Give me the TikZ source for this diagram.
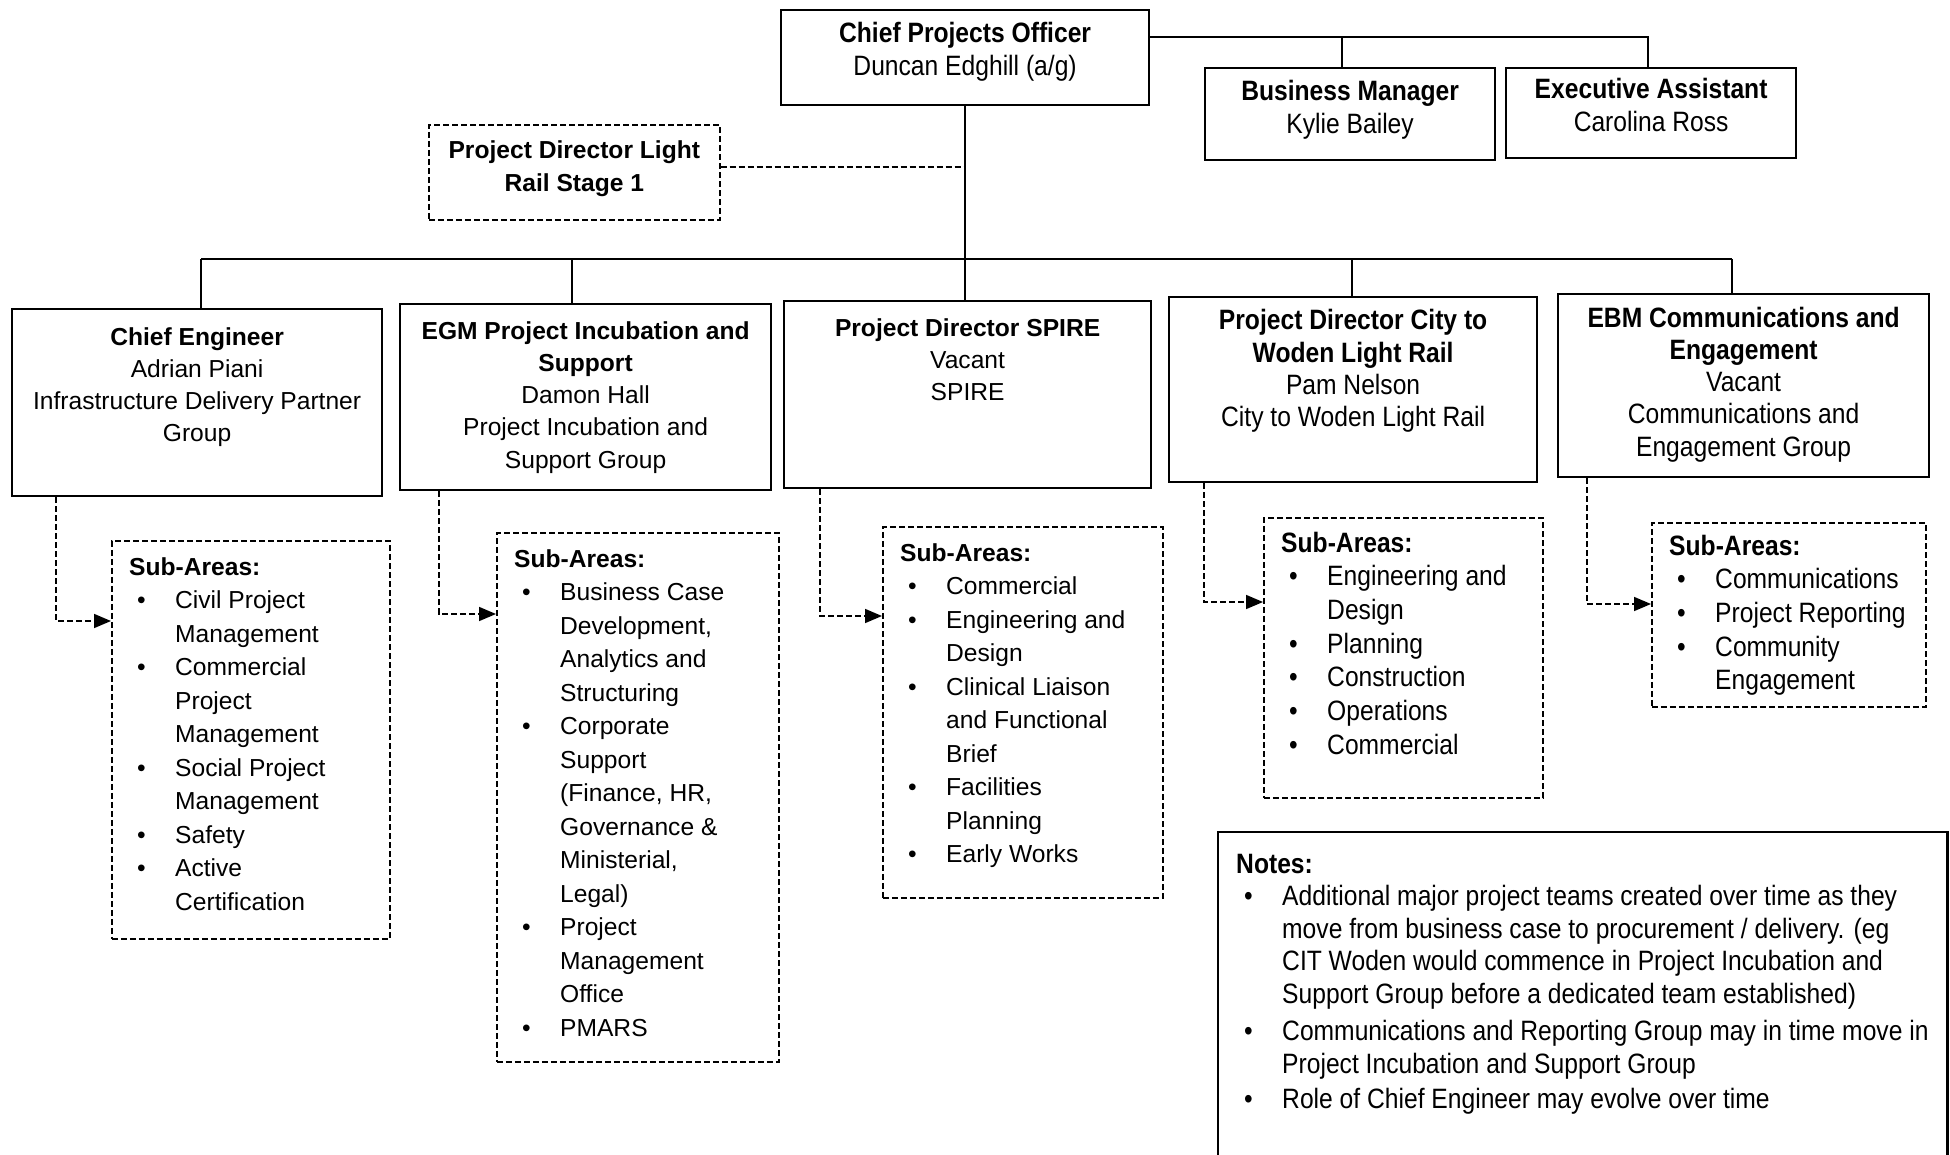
\documentclass[tikz,border=0pt]{standalone}
\usepackage{fontspec}
\setmainfont{Liberation Sans}
\newfontfamily\nar[FakeStretch=0.88]{Liberation Sans}
\usetikzlibrary{arrows.meta}
\newcommand\regfont{\fontsize{24.6}{32.3}\selectfont}
\newcommand\narfont{\nar\fontsize{28}{32.3}\selectfont}
\newcommand\reglist{\fontsize{24.6}{33.5}\selectfont}
\newcommand\narlist{\nar\fontsize{28}{33.7}\selectfont}
\newcommand\notefont{\nar\fontsize{28}{32.5}\selectfont}
\newcommand\bl{\textbullet}
\newcommand\ttab[1]{\begin{tabular}[t]{@{}c@{}}#1\end{tabular}}
\newenvironment{sublist}{\begin{tabular}[t]{@{\hspace{8pt}}p{38pt}@{}l@{}}}{\end{tabular}}
\begin{document}
\begin{tikzpicture}[x=1pt,y=-1pt,
  box/.style={draw, line width=2.2pt, rectangle, inner sep=0pt, anchor=north west},
  dbox/.style={draw, line width=1.6pt, dash pattern=on 6pt off 3pt, rectangle, inner sep=0pt, anchor=north west},
  conn/.style={line width=1.5pt},
  dconn/.style={line width=1.6pt, dash pattern=on 6pt off 3pt},
  darr/.style={dconn, -{Triangle[length=17pt,width=14pt]}},
  ttl/.style={anchor=base, inner sep=0pt},
  lst/.style={anchor=base west, inner sep=0pt}]
\fill[white] (0,0) rectangle (1950,1155);
\useasboundingbox (0,0) rectangle (1950,1155);

% top row
\node[box, minimum width=368pt, minimum height=95pt] (cpo) at (780,9) {};
\node[ttl, font=\narfont] (cpo-t) at ([yshift=-34pt]cpo.north) {\ttab{\textbf{Chief Projects Officer}\\Duncan Edghill (a/g)}};
\node[box, minimum width=290pt, minimum height=92pt] (bm) at (1204,67) {};
\node[ttl, font=\narfont] (bm-t) at ([yshift=-34pt]bm.north) {\ttab{\textbf{Business Manager}\\Kylie Bailey}};
\node[box, minimum width=290pt, minimum height=90pt] (ea) at (1505,67) {};
\node[ttl, font=\narfont] (ea-t) at ([yshift=-32pt]ea.north) {\ttab{\textbf{Executive Assistant}\\Carolina Ross}};
\node[dbox, minimum width=291pt, minimum height=95pt] (pdlr) at (428,124) {};
\node[ttl, font=\regfont] (pdlr-t) at ([yshift=-35pt]pdlr.north) {\ttab{\textbf{Project Director Light}\\\textbf{Rail Stage 1}}};

% second row
\node[box, minimum width=370pt, minimum height=187pt] (ce) at (11,308) {};
\node[ttl, font=\regfont] (ce-t) at ([yshift=-37pt]ce.north) {\ttab{\textbf{Chief Engineer}\\Adrian Piani\\Infrastructure Delivery Partner\\Group}};
\node[box, minimum width=371pt, minimum height=186pt] (egm) at (399,303) {};
\node[ttl, font=\regfont] (egm-t) at ([yshift=-36pt]egm.north) {\ttab{\textbf{EGM Project Incubation and}\\\textbf{Support}\\Damon Hall\\Project Incubation and\\Support Group}};
\node[box, minimum width=367pt, minimum height=187pt] (spire) at (783,300) {};
\node[ttl, font=\regfont] (spire-t) at ([yshift=-36pt]spire.north) {\ttab{\textbf{Project Director SPIRE}\\Vacant\\SPIRE}};
\node[box, minimum width=368pt, minimum height=185pt] (cw) at (1168,296) {};
\node[ttl, font=\narfont] (cw-t) at ([yshift=-34pt]cw.north) {\ttab{\textbf{Project Director City to}\\\textbf{Woden Light Rail}\\Pam Nelson\\City to Woden Light Rail}};
\node[box, minimum width=371pt, minimum height=183pt] (ebm) at (1557,293) {};
\node[ttl, font=\narfont] (ebm-t) at ([yshift=-34pt]ebm.north) {\ttab{\textbf{EBM Communications and}\\\textbf{Engagement}\\Vacant\\Communications and\\Engagement Group}};

% sub-area boxes
\node[dbox, minimum width=278pt, minimum height=398pt] (cesub) at (111,540) {};
\node[lst, font=\reglist] (cesub-t) at ([shift={(18pt,-35pt)}]cesub.north west) {\begin{sublist}
\multicolumn{2}{@{}l@{}}{\textbf{Sub-Areas:}}\\
\bl & Civil Project\\ & Management\\
\bl & Commercial\\ & Project\\ & Management\\
\bl & Social Project\\ & Management\\
\bl & Safety\\
\bl & Active\\ & Certification
\end{sublist}};

\node[dbox, minimum width=282pt, minimum height=529pt] (egmsub) at (496,532) {};
\node[lst, font=\reglist] (egmsub-t) at ([shift={(18pt,-35pt)}]egmsub.north west) {\begin{sublist}
\multicolumn{2}{@{}l@{}}{\textbf{Sub-Areas:}}\\
\bl & Business Case\\ & Development,\\ & Analytics and\\ & Structuring\\
\bl & Corporate\\ & Support\\ & (Finance, HR,\\ & Governance \&\\ & Ministerial,\\ & Legal)\\
\bl & Project\\ & Management\\ & Office\\
\bl & PMARS
\end{sublist}};

\node[dbox, minimum width=280pt, minimum height=371pt] (spiresub) at (882,526) {};
\node[lst, font=\reglist] (spiresub-t) at ([shift={(18pt,-35pt)}]spiresub.north west) {\begin{sublist}
\multicolumn{2}{@{}l@{}}{\textbf{Sub-Areas:}}\\
\bl & Commercial\\
\bl & Engineering and\\ & Design\\
\bl & Clinical Liaison\\ & and Functional\\ & Brief\\
\bl & Facilities\\ & Planning\\
\bl & Early Works
\end{sublist}};

\node[dbox, minimum width=279pt, minimum height=280pt] (cwsub) at (1263,517) {};
\node[lst, font=\narlist] (cwsub-t) at ([shift={(18pt,-35pt)}]cwsub.north west) {\begin{sublist}
\multicolumn{2}{@{}l@{}}{\textbf{Sub-Areas:}}\\
\bl & Engineering and\\ & Design\\
\bl & Planning\\
\bl & Construction\\
\bl & Operations\\
\bl & Commercial
\end{sublist}};

\node[dbox, minimum width=274pt, minimum height=184pt] (ebmsub) at (1651,522) {};
\node[lst, font=\narlist] (ebmsub-t) at ([shift={(18pt,-33pt)}]ebmsub.north west) {\begin{sublist}
\multicolumn{2}{@{}l@{}}{\textbf{Sub-Areas:}}\\
\bl & Communications\\
\bl & Project Reporting\\
\bl & Community\\ & Engagement
\end{sublist}};

% notes box (bottom edge runs off the page)
\node[inner sep=0pt, anchor=north west, minimum width=729pt, minimum height=330pt] (notes) at (1218,832) {};
\draw[line width=2.2pt] (notes.south west) -- (notes.north west) -- (notes.north east) -- (notes.south east);
\node[lst, font=\notefont] (notes-t) at ([shift={(18pt,-41pt)}]notes.north west) {\begin{sublist}
\multicolumn{2}{@{}l@{}}{\textbf{Notes:}}\\
\bl & Additional major project teams created over time as they\\
 & move from business case to procurement / delivery. (eg\\
 & CIT Woden would commence in Project Incubation and\\
 & Support Group before a dedicated team established)\\[5pt]
\bl & Communications and Reporting Group may in time move in\\
 & Project Incubation and Support Group\\[3pt]
\bl & Role of Chief Engineer may evolve over time
\end{sublist}};

% solid connectors
\coordinate (tr) at (1648,37);
\coordinate (tb) at (1342,37);
\draw[conn] (cpo.north east |- tr) -- (tr) -- (tr |- ea.north);
\draw[conn] (tb) -- (tb |- bm.north);
\draw[conn] (cpo.south) -- (cpo.south |- spire.north);
\coordinate (barL) at (201,259);
\coordinate (barR) at (1732,259);
\coordinate (d2) at (572,259);
\coordinate (d4) at (1352,259);
\draw[conn] (barL) -- (barR);
\draw[conn] (barL) -- (barL |- ce.north);
\draw[conn] (d2) -- (d2 |- egm.north);
\draw[conn] (d4) -- (d4 |- cw.north);
\draw[conn] (barR) -- (barR |- ebm.north);

% dashed connectors
\coordinate (pj) at (964,167);
\draw[dconn] (pj -| pdlr.east) -- (pj -| cpo.south);
\coordinate (j1) at (56,621);
\coordinate (j2) at (439,614);
\coordinate (j3) at (820,616);
\coordinate (j4) at (1204,602);
\coordinate (j5) at (1587,604);
\draw[darr] (j1 |- ce.south) -- (j1) -- (j1 -| cesub.west);
\draw[darr] (j2 |- egm.south) -- (j2) -- (j2 -| egmsub.west);
\draw[darr] (j3 |- spire.south) -- (j3) -- (j3 -| spiresub.west);
\draw[darr] (j4 |- cw.south) -- (j4) -- (j4 -| cwsub.west);
\draw[darr] (j5 |- ebm.south) -- (j5) -- (j5 -| ebmsub.west);
\end{tikzpicture}
\end{document}
